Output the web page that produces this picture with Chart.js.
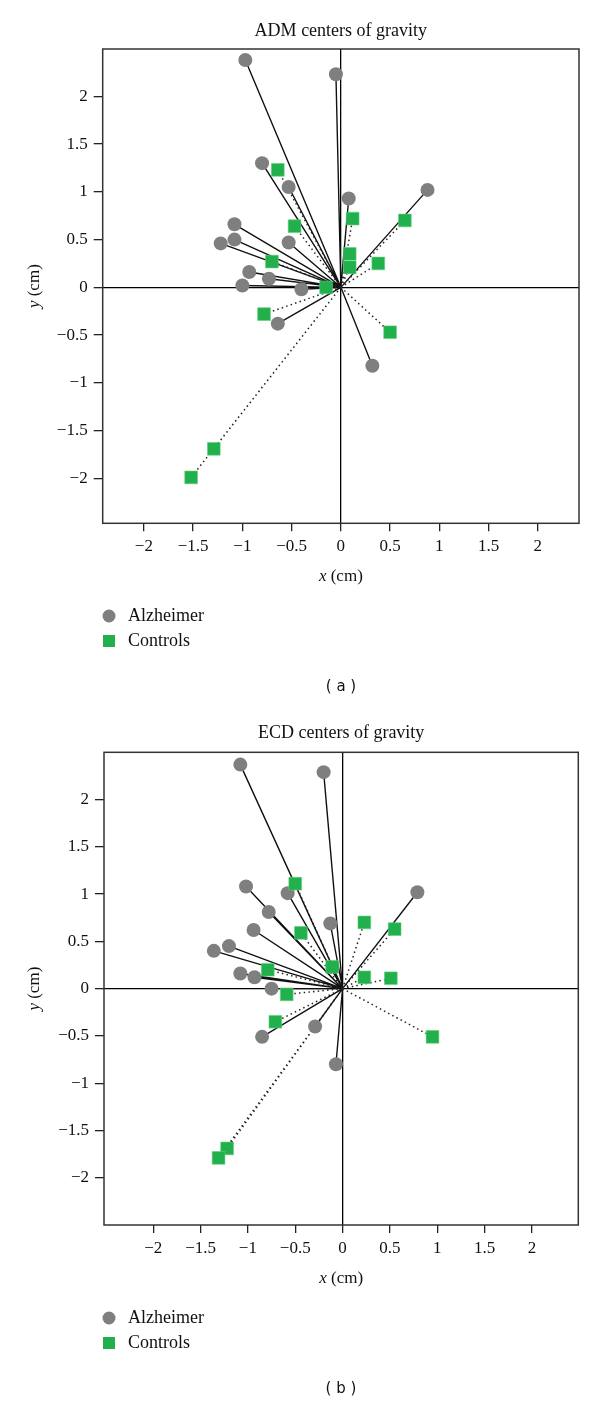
<!DOCTYPE html>
<html>
<head>
<meta charset="utf-8">
<script src="https://cdn.jsdelivr.net/npm/chart.js@4.4.1/dist/chart.umd.min.js"></script>
<style>
    html, body { margin: 0; padding: 0; background: #fff; }
    .panel { width: 600px; height: 702px; }
</style>
</head>
<body>
<div class="panel"><canvas id="chartA" width="600" height="702"></canvas></div>
<div class="panel"><canvas id="chartB" width="600" height="702"></canvas></div>
<script>
// (a) ADM centers of gravity
const admAlzX = [-0.97, -0.05, -0.80, -0.53, 0.08, 0.88, -1.08, -1.08, -1.22, -0.53, -0.93, -0.73, -1.00, -0.40, -0.64, 0.32];
const admAlzY = [2.38, 2.23, 1.30, 1.05, 0.93, 1.02, 0.66, 0.50, 0.46, 0.47, 0.16, 0.09, 0.02, -0.02, -0.38, -0.82];
const admCtlX = [-0.64, -0.47, -0.70, -0.15, 0.12, 0.09, 0.09, 0.65, 0.38, -0.78, 0.50, -1.29, -1.52];
const admCtlY = [1.23, 0.64, 0.27, 0.00, 0.72, 0.35, 0.21, 0.70, 0.25, -0.28, -0.47, -1.69, -1.99];

// (b) ECD centers of gravity
const ecdAlzX = [-1.08, -0.20, -1.02, -0.58, -0.78, -0.13, -0.94, -1.20, -1.36, -1.08, -0.93, -0.75, -0.29, -0.85, -0.07, 0.79];
const ecdAlzY = [2.37, 2.29, 1.08, 1.01, 0.81, 0.69, 0.62, 0.45, 0.40, 0.16, 0.12, 0.00, -0.40, -0.51, -0.80, 1.02];
const ecdCtlX = [-0.50, -0.44, -0.11, -0.79, -0.59, -0.71, -1.22, -1.31, 0.95, 0.23, 0.51, 0.23, 0.55];
const ecdCtlY = [1.11, 0.59, 0.23, 0.20, -0.06, -0.35, -1.69, -1.79, -0.51, 0.12, 0.11, 0.70, 0.63];

const xTicks = [-2, -1.5, -1, -0.5, 0, 0.5, 1, 1.5, 2];
const yTicks = [-2, -1.5, -1, -0.5, 0, 0.5, 1, 1.5, 2];

const seriesNames = ['Alzheimer', 'Controls'];

const SERIF = "'Liberation Serif', 'DejaVu Serif', serif";
const GRAY = '#7f7f7f';
const GREEN = '#21b04b';

function fmt(v) {
    return v < 0 ? '\u2212' + Math.abs(v) : String(v);
}

function toPoints(xs, ys) {
    return xs.map((x, i) => ({ x: x, y: ys[i] }));
}

// segmentos da origem ate cada ponto, separados por um null
function spokes(xs, ys) {
    const pts = [];
    xs.forEach((x, i) => {
        pts.push({ x: 0, y: 0 }, { x: x, y: ys[i] }, { x: 0, y: null });
    });
    return pts;
}

const decor = {
    id: 'decor',
    afterDraw(chart, args, opts) {
        const ctx = chart.ctx;
        const a = chart.chartArea;
        const cx = (a.left + a.right) / 2;
        ctx.save();

        // moldura
        ctx.strokeStyle = '#333';
        ctx.lineWidth = 1.5;
        ctx.strokeRect(a.left, a.top, a.right - a.left, a.bottom - a.top);

        ctx.fillStyle = '#111';
        ctx.textAlign = 'center';
        ctx.textBaseline = 'middle';
        ctx.font = '18px ' + SERIF;
        ctx.fillText(opts.title, cx, 31);

        // x (cm)
        ctx.font = 'italic 17px ' + SERIF;
        const wx = ctx.measureText('x').width;
        ctx.font = '17px ' + SERIF;
        const wr = ctx.measureText(' (cm)').width;
        let start = cx - (wx + wr) / 2;
        ctx.textAlign = 'left';
        ctx.font = 'italic 17px ' + SERIF;
        ctx.fillText('x', start, 577);
        ctx.font = '17px ' + SERIF;
        ctx.fillText(' (cm)', start + wx, 577);

        // y (cm)
        ctx.translate(35, (a.top + a.bottom) / 2);
        ctx.rotate(-Math.PI / 2);
        ctx.font = 'italic 17px ' + SERIF;
        const wy = ctx.measureText('y').width;
        start = -(wy + wr) / 2;
        ctx.fillText('y', start, 0);
        ctx.font = '17px ' + SERIF;
        ctx.fillText(' (cm)', start + wy, 0);
        ctx.setTransform(1, 0, 0, 1, 0, 0);

        // legenda
        ctx.fillStyle = GRAY;
        ctx.beginPath();
        ctx.arc(109, 616, 6.5, 0, Math.PI * 2);
        ctx.fill();
        ctx.fillStyle = GREEN;
        ctx.fillRect(103, 635, 12, 12);
        ctx.fillStyle = '#111';
        ctx.font = '18px ' + SERIF;
        ctx.fillText(seriesNames[0], 128, 616);
        ctx.fillText(seriesNames[1], 128, 641);

        ctx.textAlign = 'center';
        ctx.font = "15px 'DejaVu Sans', sans-serif";
        ctx.fillText(opts.label, 341, 687);
        ctx.restore();
    }
};

function makeChart(id, title, label, alzX, alzY, ctlX, ctlY, box, range) {
    const ctx = document.getElementById(id).getContext('2d');
    new Chart(ctx, {
        type: 'scatter',
        data: {
            datasets: [{
                label: seriesNames[1],
                data: toPoints(ctlX, ctlY),
                pointStyle: 'rect',
                pointRadius: 9,
                backgroundColor: GREEN,
                borderColor: '#5fcf7e',
                borderWidth: 0.6
            }, {
                label: seriesNames[0],
                data: toPoints(alzX, alzY),
                pointStyle: 'circle',
                pointRadius: 7,
                backgroundColor: GRAY,
                borderColor: GRAY,
                borderWidth: 0
            }, {
                label: 'ctl-lines',
                data: spokes(ctlX, ctlY),
                showLine: true,
                spanGaps: false,
                pointRadius: 0,
                borderColor: '#222',
                borderWidth: 1.5,
                borderDash: [1.5, 3.2]
            }, {
                label: 'alz-lines',
                data: spokes(alzX, alzY),
                showLine: true,
                spanGaps: false,
                pointRadius: 0,
                borderColor: '#111',
                borderWidth: 1.4
            }]
        },
        options: {
            responsive: false,
            animation: false,
            layout: {
                padding: { top: box.top, right: 600 - box.right, bottom: 702 - box.bottom - 60, left: 0 }
            },
            scales: {
                x: {
                    type: 'linear',
                    min: range.x[0],
                    max: range.x[1],
                    afterBuildTicks: s => { s.ticks = xTicks.map(v => ({ value: v })); },
                    afterFit: s => { s.height = 60; },
                    border: { display: false },
                    grid: {
                        color: c => (c.tick && c.tick.value === 0) ? '#000' : 'rgba(0,0,0,0)',
                        lineWidth: 1.3,
                        tickColor: '#222',
                        tickLength: 8
                    },
                    ticks: {
                        color: '#111',
                        font: { family: SERIF, size: 17 },
                        padding: 5,
                        maxRotation: 0,
                        autoSkip: false,
                        callback: v => fmt(v)
                    }
                },
                y: {
                    type: 'linear',
                    min: range.y[0],
                    max: range.y[1],
                    afterBuildTicks: s => { s.ticks = yTicks.map(v => ({ value: v })); },
                    afterFit: s => { s.width = box.left; },
                    border: { display: false },
                    grid: {
                        color: c => (c.tick && c.tick.value === 0) ? '#000' : 'rgba(0,0,0,0)',
                        lineWidth: 1.3,
                        tickColor: '#222',
                        tickLength: 9
                    },
                    ticks: {
                        color: '#111',
                        font: { family: SERIF, size: 17 },
                        padding: 6,
                        autoSkip: false,
                        callback: v => fmt(v)
                    }
                }
            },
            plugins: {
                legend: { display: false },
                tooltip: { enabled: false },
                decor: { title: title, label: label }
            }
        },
        plugins: [decor]
    });
}

makeChart('chartA', 'ADM centers of gravity', '( a )', admAlzX, admAlzY, admCtlX, admCtlY,
    { left: 102.7, right: 579, top: 49, bottom: 523.3 },
    { x: [-2.418, 2.418], y: [-2.47, 2.495] });

makeChart('chartB', 'ECD centers of gravity', '( b )', ecdAlzX, ecdAlzY, ecdCtlX, ecdCtlY,
    { left: 104, right: 578.3, top: 50.3, bottom: 523 },
    { x: [-2.52, 2.49], y: [-2.5, 2.5] });
</script>
</body>
</html>
